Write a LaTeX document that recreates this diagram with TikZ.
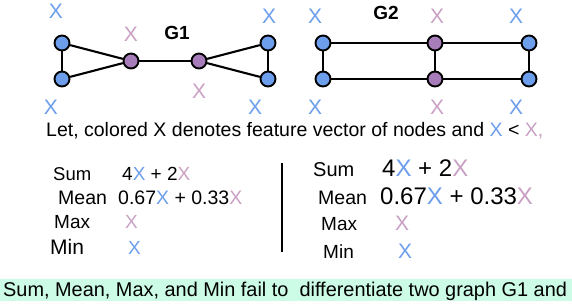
\documentclass[tikz,border=0pt]{standalone}
\usepackage{fontspec}
\setmainfont{Liberation Sans}
\definecolor{nblue}{HTML}{6D9EEB}
\definecolor{npurple}{HTML}{A67DB8}
\definecolor{xblue}{HTML}{6D9EEB}
\definecolor{xpink}{HTML}{C9A0C4}
\definecolor{band}{HTML}{CCFBE6}
\newcommand\bX{\textcolor{xblue}{X}}
\newcommand\pX{\textcolor{xpink}{X}}
\begin{document}
\begin{tikzpicture}[x=1pt,y=-1pt,
  bnode/.style={circle,draw=black,line width=1.9pt,fill=nblue,minimum size=15pt,inner sep=0},
  pnode/.style={circle,draw=black,line width=1.9pt,fill=npurple,minimum size=15pt,inner sep=0},
  edge/.style={line width=2.1pt,black},
  xm/.style={inner sep=0,font=\fontsize{21}{24}\selectfont},
  xb/.style={xm,text=xblue},
  xp/.style={xm,text=xpink},
  lbl/.style={inner sep=0,font=\bfseries\fontsize{19}{22}\selectfont},
  txt/.style={inner sep=0,anchor=base west,font=\fontsize{19.5}{22}\selectfont},
  big/.style={inner sep=0,anchor=base west,font=\fontsize{24}{27}\selectfont}]
\useasboundingbox (0,0) rectangle (572,304);
% band
\fill[band] (0,279) rectangle (572,301);
% G1
\node[bnode] (a1) at (62,43) {};
\node[bnode] (a2) at (62,79) {};
\node[pnode] (a3) at (131,61) {};
\node[pnode] (a4) at (199,61) {};
\node[bnode] (a5) at (268,43) {};
\node[bnode] (a6) at (268,79) {};
\draw[edge] (a1) -- (a2);
\draw[edge] (a1) -- (a3);
\draw[edge] (a2) -- (a3);
\draw[edge] (a3) -- (a4);
\draw[edge] (a4) -- (a5);
\draw[edge] (a4) -- (a6);
\draw[edge] (a5) -- (a6);
\node[lbl] (g1) at (177,33) {G1};
\node[xb] (x1) at (56,11) {X};
\node[xp] (x2) at (131,34) {X};
\node[xb] (x3) at (269,16) {X};
\node[xp] (x4) at (199,91) {X};
\node[xb] (x5) at (51,107) {X};
\node[xb] (x6) at (255,107) {X};
% G2
\node[bnode] (b1) at (323,43) {};
\node[bnode] (b2) at (323,79) {};
\node[pnode] (b3) at (435,43) {};
\node[pnode] (b4) at (435,79) {};
\node[bnode] (b5) at (529,43) {};
\node[bnode] (b6) at (529,79) {};
\draw[edge] (b1) -- (b3);
\draw[edge] (b3) -- (b5);
\draw[edge] (b2) -- (b4);
\draw[edge] (b4) -- (b6);
\draw[edge] (b1) -- (b2);
\draw[edge] (b3) -- (b4);
\draw[edge] (b5) -- (b6);
\node[lbl] (g2) at (386,13) {G2};
\node[xb] (y1) at (315,16) {X};
\node[xp] (y2) at (437,16) {X};
\node[xb] (y3) at (516,16) {X};
\node[xb] (y4) at (315,107) {X};
\node[xp] (y5) at (437,107) {X};
\node[xb] (y6) at (516,107) {X};
% middle text
\node[txt] (note) at (46,137) {Let, colored X denotes feature vector of nodes and \bX{} < \textcolor{xpink}{X,}};
% left panel
\node[txt,font=\fontsize{18.5}{22}\selectfont] (ls) at (53,180.5) {Sum};
\node[txt,font=\fontsize{19}{22}\selectfont] (lsv) at (122,180.5) {4\bX{} + 2\pX};
\node[txt] (lm) at (58,205) {Mean};
\node[txt] (lmv) at (118,205) {0.67\bX{} + 0.33\pX};
\node[txt,font=\fontsize{19}{22}\selectfont] (lx) at (54,228) {Max};
\node[txt,font=\fontsize{19}{22}\selectfont] (lxv) at (125,228) {\pX};
\node[txt,font=\fontsize{21}{24}\selectfont] (ln) at (50,254) {Min};
\node[txt,font=\fontsize{19}{22}\selectfont] (lnv) at (128,254) {\bX};
% divider
\coordinate (d1) at (282,163);
\coordinate (d2) at (282,252);
\draw[line width=1.8pt] (d1) -- (d2);
% right panel
\node[txt,font=\fontsize{20}{22}\selectfont] (rs) at (313,177) {Sum};
\node[big] (rsv) at (382,177) {4\bX{} + 2\pX};
\node[txt] (rm) at (318,205) {Mean};
\node[big] (rmv) at (380,205) {0.67\bX{} + 0.33\pX};
\node[txt,font=\fontsize{19}{22}\selectfont] (rx) at (321,230.5) {Max};
\node[txt,font=\fontsize{21}{24}\selectfont] (rxv) at (395,230.5) {\pX};
\node[txt,font=\fontsize{19}{22}\selectfont] (rn) at (323,258) {Min};
\node[txt,font=\fontsize{21}{24}\selectfont] (rnv) at (398,258) {\bX};
% bottom
\node[txt,font=\fontsize{19.9}{22}\selectfont] (bottom) at (3,296.5) {Sum, Mean, Max, and Min fail to\ \ differentiate two graph G1 and};
\end{tikzpicture}
\end{document}
